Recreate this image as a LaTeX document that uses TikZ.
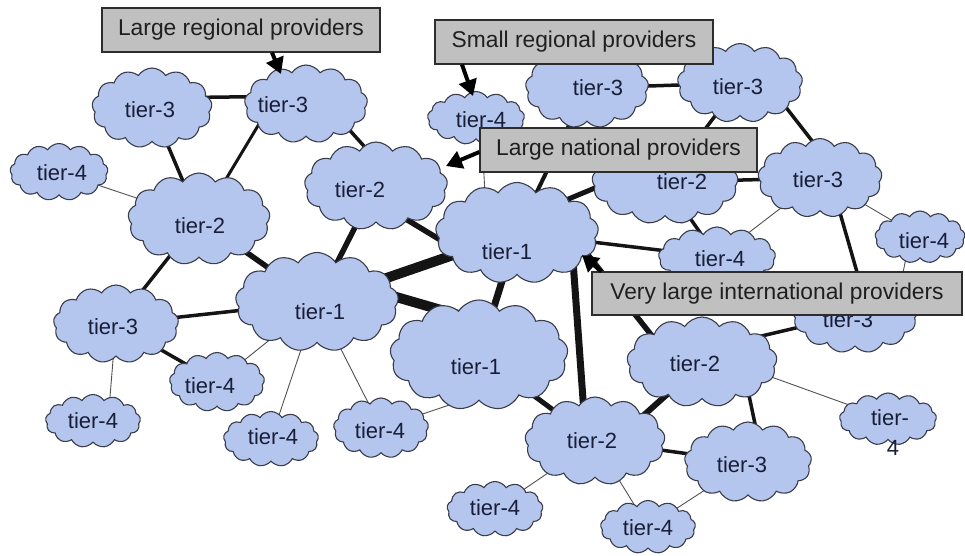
\documentclass[tikz,border=0pt]{standalone}
\usepackage{fontspec}
\setmainfont{Liberation Sans}
\usetikzlibrary{shapes.symbols,arrows.meta,backgrounds}
\definecolor{cloudfill}{RGB}{181,198,238}
\definecolor{cloudline}{RGB}{58,60,74}
\definecolor{tierink}{RGB}{24,30,56}
\definecolor{boxfill}{RGB}{192,192,192}
\definecolor{boxline}{RGB}{45,45,45}
\begin{document}
\begin{tikzpicture}[x=1pt,y=-1pt,
  puff/.style={cloud, cloud puffs=13, cloud puff arc=115, cloud ignores aspect,
    draw=cloudline, fill=cloudfill, line width=1.1pt, inner sep=0pt},
  tiertext/.style={text=tierink, font=\fontsize{22}{24}\selectfont, inner sep=0pt},
  callout/.style={draw=boxline, fill=boxfill, line width=1.2pt, inner sep=0pt,
    font=\fontsize{22.8}{24}\selectfont, text=black!88},
  bond/.style={line width=#1, draw=black!92},
  weak/.style={line width=0.9pt, draw=black!68},
  pointer/.style={line width=4pt, draw=black, -{Triangle[length=16pt,width=18pt]}}]
\useasboundingbox (0,0) rectangle (965,555);

% ---------- provider clouds ----------
\node[puff, minimum width=120pt, minimum height=80pt] (t3a) at (152,108) {};
\node[puff, minimum width=123pt, minimum height=78pt] (t3b) at (306,104) {};
\node[puff, minimum width=98pt,  minimum height=57pt] (t4a) at (59,172) {};
\node[puff, minimum width=142pt, minimum height=92pt] (t2a) at (199,219) {};
\node[puff, minimum width=143pt, minimum height=88pt] (t2b) at (376,186) {};
\node[puff, minimum width=97pt,  minimum height=53pt] (t4b) at (476,118) {};
\node[puff, minimum width=123pt, minimum height=80pt] (t3c) at (587,88) {};
\node[puff, minimum width=125pt, minimum height=79pt] (t3d) at (740,83) {};
\node[puff, minimum width=146pt, minimum height=84pt] (t2c) at (665,182) {};
\node[puff, minimum width=124pt, minimum height=79pt] (t3e) at (820,178) {};
\node[puff, minimum width=117pt, minimum height=60pt] (t4c) at (717,257) {};
\node[puff, minimum width=90pt,  minimum height=52pt] (t4d) at (920,237) {};
\node[puff, minimum width=163pt, minimum height=101pt] (t1a) at (517,233) {};
\node[puff, minimum width=163pt, minimum height=99pt] (t1b) at (317,302) {};
\node[puff, minimum width=178pt, minimum height=110pt] (t1c) at (479,355) {};
\node[puff, minimum width=125pt, minimum height=78pt] (t3f) at (116,324) {};
\node[puff, minimum width=95pt,  minimum height=59pt] (t4e) at (217,382) {};
\node[puff, minimum width=95pt,  minimum height=53pt] (t4f) at (93,421) {};
\node[puff, minimum width=95pt,  minimum height=55pt] (t4g) at (271,439) {};
\node[puff, minimum width=95pt,  minimum height=60pt] (t4h) at (381,428) {};
\node[puff, minimum width=140pt, minimum height=88pt] (t2d) at (595,441) {};
\node[puff, minimum width=150pt, minimum height=90pt] (t2e) at (702,362) {};
\node[puff, minimum width=125pt, minimum height=78pt] (t3g) at (855,314) {};
\node[puff, minimum width=97pt,  minimum height=52pt] (t4i) at (888,419) {};
\node[puff, minimum width=127pt, minimum height=80pt] (t3h) at (748,462) {};
\node[puff, minimum width=96pt,  minimum height=55pt] (t4j) at (495,509) {};
\node[puff, minimum width=95pt,  minimum height=53pt] (t4k) at (648,527) {};

% ---------- cloud captions ----------
\node[tiertext] (t3a-cap) at (150,110) {tier-3};
\node[tiertext] (t3b-cap) at (283,105) {tier-3};
\node[tiertext] (t4a-cap) at (62,173) {tier-4};
\node[tiertext] (t2a-cap) at (200,226) {tier-2};
\node[tiertext] (t2b-cap) at (360,190) {tier-2};
\node[tiertext] (t4b-cap) at (481,120) {tier-4};
\node[tiertext] (t3c-cap) at (598,88) {tier-3};
\node[tiertext] (t3d-cap) at (738,87) {tier-3};
\node[tiertext] (t2c-cap) at (682,182) {tier-2};
\node[tiertext] (t3e-cap) at (818,180) {tier-3};
\node[tiertext] (t4c-cap) at (720,259) {tier-4};
\node[tiertext] (t4d-cap) at (924,241) {tier-4};
\node[tiertext] (t1a-cap) at (507,252) {tier-1};
\node[tiertext] (t1b-cap) at (320,312) {tier-1};
\node[tiertext] (t1c-cap) at (476,367) {tier-1};
\node[tiertext] (t3f-cap) at (113,327) {tier-3};
\node[tiertext] (t4e-cap) at (210,386) {tier-4};
\node[tiertext] (t4f-cap) at (93,421) {tier-4};
\node[tiertext] (t4g-cap) at (273,437) {tier-4};
\node[tiertext] (t4h-cap) at (380,431) {tier-4};
\node[tiertext] (t2d-cap) at (592,441) {tier-2};
\node[tiertext] (t2e-cap) at (695,364) {tier-2};
\node[tiertext] (t3g-cap) at (848,320) {tier-3};
\node[tiertext] (t4i-cap) at (890,418) {tier-};
\node[tiertext] (t4i-cap2) at (893,448) {4};
\node[tiertext] (t3h-cap) at (742,465) {tier-3};
\node[tiertext] (t4j-cap) at (495,508) {tier-4};
\node[tiertext] (t4k-cap) at (648,528) {tier-4};

% ---------- peering links, behind the clouds ----------
\begin{pgfonlayer}{background}
\draw[bond=3.5pt] ([shift={(0,-10)}]t3a.center) -- ([shift={(0,-8)}]t3b.center);
\draw[bond=3.5pt] (t3a.center) -- (t2a.center);
\draw[bond=3pt] ([shift={(-35,0)}]t3b.center) -- ([shift={(3,0)}]t2a.center);
\draw[bond=3.5pt] ([shift={(20,0)}]t3b.center) -- ([shift={(15,-10)}]t2b.center);
\draw[weak] (t4a.center) -- (t2a.center);
\draw[bond=5.5pt] (t2a.center) -- (t1b.center);
\draw[bond=3.5pt] (t2a.center) -- (t3f.center);
\draw[bond=5.5pt] (t2b.center) -- (t1b.center);
\draw[bond=5.5pt] ([shift={(0,15)}]t2b.center) -- ([shift={(-27,37)}]t1a.center);
\draw[bond=10pt] (t1b.center) -- (t1a.center);
\draw[bond=10pt] ([shift={(0,-28)}]t1b.center) -- ([shift={(0,-34)}]t1c.center);
\draw[bond=3.5pt] (t1b.center) -- (t3f.center);
\draw[weak] (t1b.center) -- (t4e.center);
\draw[weak] (t1b.center) -- (t4g.center);
\draw[weak] (t1b.center) -- (t4h.center);
\draw[bond=3.5pt] (t3f.center) -- (t4e.center);
\draw[weak] (t3f.center) -- ([shift={(15,0)}]t4f.center);
\draw[weak] ([shift={(0,40)}]t1c.center) -- (t4h.center);
\draw[bond=7pt] (t1a.center) -- (t1c.center);
\draw[bond=7pt] ([shift={(54,0)}]t1a.center) -- ([shift={(-9,0)}]t2d.center);
\draw[bond=5.5pt] ([shift={(60,8)}]t1a.center) -- ([shift={(-42,-16)}]t2e.center);
\draw[bond=3.5pt] (t1a.center) -- (t4c.center);
\draw[bond=5pt] ([shift={(30,-25)}]t1a.center) -- ([shift={(-20,-15)}]t2c.center);
\draw[weak] ([shift={(5,0)}]t4b.center) -- ([shift={(-30,0)}]t1a.center);
\draw[bond=4pt] (t1a.center) -- (t3c.center);
\draw[bond=3.5pt] (t3c.center) -- (t3d.center);
\draw[bond=3.5pt] (t3d.center) -- (t2c.center);
\draw[bond=3.5pt] ([shift={(27,0)}]t3d.center) -- ([shift={(21,0)}]t3e.center);
\draw[bond=3.5pt] (t2c.center) -- (t3e.center);
\draw[weak] (t3e.center) -- (t4c.center);
\draw[weak] (t3e.center) -- (t4d.center);
\draw[bond=3.5pt] ([shift={(10,0)}]t3e.center) -- ([shift={(14,0)}]t3g.center);
\draw[bond=3.5pt] (t2c.center) -- (t4c.center);
\draw[weak] ([shift={(-10,0)}]t4d.center) -- ([shift={(40,0)}]t3g.center);
\draw[bond=3.5pt] ([shift={(0,-12)}]t2e.center) -- (t3g.center);
\draw[weak] ([shift={(0,-10)}]t2e.center) -- (t4i.center);
\draw[bond=3.5pt] ([shift={(40,0)}]t2e.center) -- ([shift={(15,0)}]t3h.center);
\draw[bond=6pt] ([shift={(-10,10)}]t2e.center) -- ([shift={(20,0)}]t2d.center);
\draw[bond=3.5pt] (t2d.center) -- (t3h.center);
\draw[weak] (t2d.center) -- (t4j.center);
\draw[weak] (t2d.center) -- (t4k.center);
\draw[weak] (t3h.center) -- (t4k.center);
\draw[bond=5pt] (t1c.center) -- (t2d.center);
\end{pgfonlayer}

% ---------- callout boxes ----------
\node[callout, minimum width=278pt, minimum height=44pt] (lregional) at (241,30) {Large regional providers};
\node[callout, minimum width=278pt, minimum height=44pt] (sregional) at (574,42) {Small regional providers};
\node[callout, minimum width=277pt, minimum height=44pt] (lnational) at (618.5,150) {Large national providers};
\node[callout, minimum width=370pt, minimum height=43pt] (intl) at (777,293.5) {Very large international providers};

% ---------- pointers from the callouts ----------
\coordinate (tipA) at (281,74);
\coordinate (tipB) at (473,96);
\coordinate (tipC) at (446,166);
\coordinate (tipD) at (582,255);
\draw[pointer] ([xshift=31pt]lregional.south) -- (tipA);
\draw[pointer] ([xshift=-112pt]sregional.south) -- (tipB);
\draw[pointer] ([yshift=-2pt]lnational.west) -- (tipC);
\draw[pointer] ([xshift=10pt]intl.north west) -- (tipD);
\end{tikzpicture}
\end{document}
